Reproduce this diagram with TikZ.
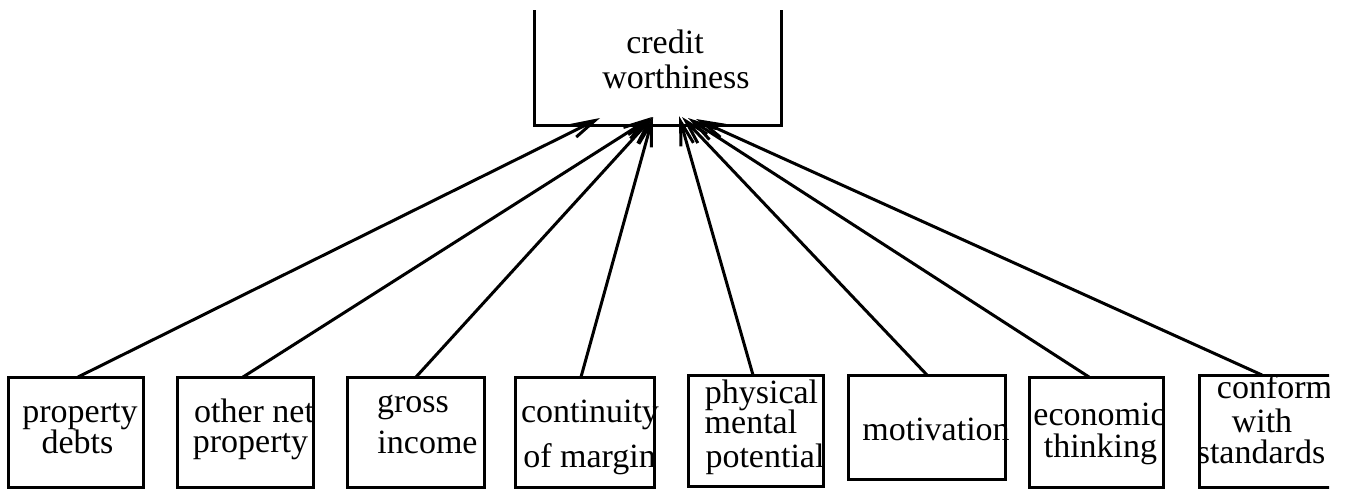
\documentclass[tikz,border=0pt]{standalone}
\usepackage{fontspec}
\setmainfont{Liberation Serif}
\usetikzlibrary{arrows.meta}
\begin{document}
\begin{tikzpicture}[x=1pt,y=-1pt,
  box/.style={draw,line width=3pt,inner sep=0pt,outer sep=0pt},
  txt/.style={anchor=base,inner sep=0pt,font=\fontsize{34}{34}\selectfont},
  arr/.style={line width=3pt,-{Straight Barb[length=24pt,width=13pt]}}]
\useasboundingbox (0,0) rectangle (1346,491);
\clip (0,0) rectangle (1329,491);
% top box (three sides)
\coordinate (tl) at (534,10);
\coordinate (tr) at (781,10);
\draw[line width=3pt] (tl) -- (534,125) -- (781,125) -- (tr);
\node[txt] (c1) at (665,53) {credit};
\node[txt] (c2) at (676,88) {worthiness};
% bottom boxes
\node[box,minimum width=135pt,minimum height=110pt] (b1) at (75.5,432) {};
\node[box,minimum width=136pt,minimum height=110pt] (b2) at (245,432) {};
\node[box,minimum width=137pt,minimum height=110pt] (b3) at (415.5,432) {};
\node[box,minimum width=139pt,minimum height=110pt] (b4) at (584.5,432) {};
\node[box,minimum width=135pt,minimum height=111pt] (b5) at (755.5,430.5) {};
\node[box,minimum width=157pt,minimum height=104pt] (b6) at (926.5,427) {};
\node[box,minimum width=134pt,minimum height=110pt] (b7) at (1096,432) {};
\node[box,minimum width=140pt,minimum height=112pt] (b8) at (1269,431) {};
% texts
\node[txt] (t1a) at (80,422) {property};
\node[txt] (t1b) at (77.5,453) {debts};
\node[txt] (t2a) at (254,422) {other net};
\node[txt] (t2b) at (250.5,452) {property};
\node[txt] (t3a) at (413,412) {gross};
\node[txt] (t3b) at (427.5,453) {income};
\node[txt] (t4a) at (590,422) {continuity};
\node[txt] (t4b) at (589.5,467) {of margin};
\node[txt] (t5a) at (761.5,403) {physical};
\node[txt] (t5b) at (751,433) {mental};
\node[txt] (t5c) at (765,467) {potential};
\node[txt] (t6a) at (936,440) {motivation};
\node[txt] (t7a) at (1099.5,425) {economic};
\node[txt] (t7b) at (1100.5,457) {thinking};
\node[txt] (t8a) at (1274.5,398) {conform};
\node[txt] (t8b) at (1262,432) {with};
\node[txt] (t8c) at (1261,463) {standards};
% arrow tips
\coordinate (p1) at (600,118);
\coordinate (p2) at (652,117);
\coordinate (p3) at (653,117);
\coordinate (p4) at (653,117);
\coordinate (p5) at (679,116);
\coordinate (p6) at (682,117);
\coordinate (p7) at (688,118);
\coordinate (p8) at (696,119);
\draw[arr] ([xshift=2.5pt]b1.north) -- (p1);
\draw[arr] ([xshift=-2pt]b2.north) -- (p2);
\draw[arr] ([xshift=0.5pt]b3.north) -- (p3);
\draw[arr] ([xshift=-3.5pt]b4.north) -- (p4);
\draw[arr] ([xshift=-2.5pt]b5.north) -- (p5);
\draw[arr] ([xshift=0.5pt]b6.north) -- (p6);
\draw[arr] ([xshift=-7pt]b7.north) -- (p7);
\draw[arr] ([xshift=-7pt]b8.north) -- (p8);
\end{tikzpicture}
\end{document}
